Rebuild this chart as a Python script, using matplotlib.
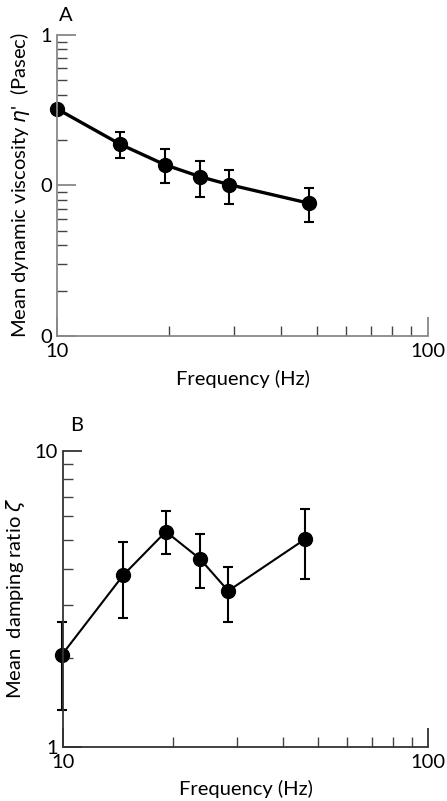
import matplotlib
matplotlib.use("Agg")
import matplotlib.pyplot as plt
from matplotlib.ticker import FixedLocator, NullFormatter, LogLocator
import numpy as np

plt.rcParams['font.family'] = ['Lato', 'DejaVu Sans']
plt.rcParams['mathtext.fontset'] = 'dejavusans'

# panel A - dynamic viscosity
freq_a = [10.0, 14.8, 19.5, 24.3, 29.1, 47.8]
visc_mean = [0.321, 0.187, 0.137, 0.114, 0.101, 0.076]
visc_hi = [0.321, 0.227, 0.174, 0.144, 0.127, 0.096]
visc_lo = [0.321, 0.152, 0.103, 0.084, 0.075, 0.057]

# panel B - damping ratio
freq_b = [9.9, 14.6, 19.1, 23.7, 28.3, 46.0]
damp_mean = [2.04, 3.80, 5.33, 4.31, 3.36, 5.03]
damp_hi = [2.64, 4.92, 6.24, 5.24, 4.05, 6.34]
damp_lo = [1.33, 2.72, 4.48, 3.44, 2.64, 3.69]

xticks = [10, 100]
xticklabels = ['10', '100']
yticks_a = [0.01, 0.1, 1]
yticklabels_a = ['0', '0', '1']
yticks_b = [1, 10]
yticklabels_b = ['1', '10']

FS = 14.5

fig = plt.figure(figsize=(4.47, 8.01), dpi=100)
axA = fig.add_axes([0.1282, 0.5805, 0.830, 0.3762])
axB = fig.add_axes([0.1416, 0.0678, 0.8166, 0.3695])


def style(ax, spine_col):
    ax.set_xscale('log')
    ax.set_yscale('log')
    ax.set_xlim(10, 100)
    for s in ['top', 'right']:
        ax.spines[s].set_visible(False)
    for s in ['left', 'bottom']:
        ax.spines[s].set_color(spine_col)
        ax.spines[s].set_linewidth(1.3)
    ax.xaxis.set_major_locator(FixedLocator(xticks))
    ax.set_xticklabels(xticklabels)
    ax.xaxis.set_minor_locator(LogLocator(base=10, subs=np.arange(2, 10)))
    ax.xaxis.set_minor_formatter(NullFormatter())
    ax.yaxis.set_minor_locator(LogLocator(base=10, subs=np.arange(2, 10)))
    ax.yaxis.set_minor_formatter(NullFormatter())
    ax.tick_params(which='major', direction='in', length=14, width=1.3,
                   colors=spine_col, labelcolor='black', labelsize=FS, pad=4)
    ax.tick_params(which='minor', direction='in', length=7, width=1.0,
                   colors='#444444')
    ax.tick_params(axis='x', which='major', pad=5)
    ax.set_xlabel('Frequency (Hz)', fontsize=FS, labelpad=7)


style(axA, '#888888')
axA.set_ylim(0.01, 1)
axA.yaxis.set_major_locator(FixedLocator(yticks_a))
axA.set_yticklabels(yticklabels_a)
yerr_a = [np.array(visc_mean) - np.array(visc_lo), np.array(visc_hi) - np.array(visc_mean)]
axA.errorbar(freq_a, visc_mean, yerr=yerr_a, fmt='-o', color='black', lw=2.4,
             elinewidth=1.5, capsize=3.5, capthick=1.5, markersize=10, clip_on=False)
axA.set_ylabel("Mean dynamic viscosity $\\eta$'  (Pasec)", fontsize=FS, labelpad=6)
axA.text(0.005, 1.035, 'A', transform=axA.transAxes, fontsize=FS, ha='left', va='bottom')

style(axB, '#333333')
axB.set_ylim(1, 10)
axB.yaxis.set_major_locator(FixedLocator(yticks_b))
axB.set_yticklabels(yticklabels_b)
yerr_b = [np.array(damp_mean) - np.array(damp_lo), np.array(damp_hi) - np.array(damp_mean)]
axB.errorbar(freq_b, damp_mean, yerr=yerr_b, fmt='-o', color='black', lw=1.5,
             elinewidth=1.5, capsize=3.5, capthick=1.5, markersize=10, clip_on=False)
axB.set_ylabel("Mean  damping ratio $\\zeta$", fontsize=FS, labelpad=5)
axB.text(0.02, 1.055, 'B', transform=axB.transAxes, fontsize=FS, ha='left', va='bottom')

fig.savefig('out.png', dpi=100)
